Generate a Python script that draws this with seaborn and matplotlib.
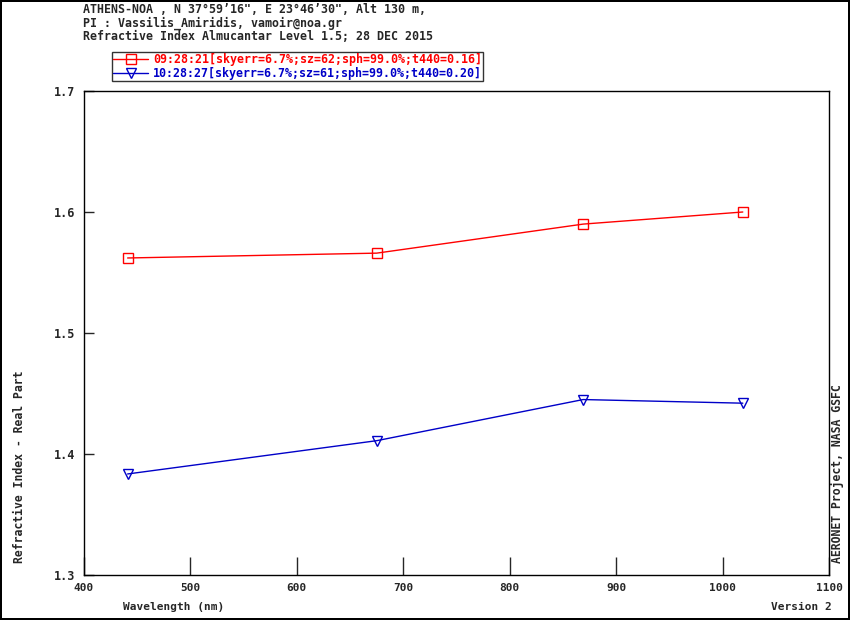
import matplotlib
matplotlib.use("Agg")
import matplotlib.pyplot as plt
import seaborn as sns
import pandas as pd

# Data (AERONET almucantar inversion, real refractive index)
wavelength = [441, 675, 869, 1019]
ri_0928 = [1.562, 1.566, 1.590, 1.600]
ri_1028 = [1.3835, 1.411, 1.445, 1.442]
labels = ["09:28:21[skyerr=6.7%;sz=62;sph=99.0%;t440=0.16]",
          "10:28:27[skyerr=6.7%;sz=61;sph=99.0%;t440=0.20]"]
header = ["ATHENS-NOA , N 37\u00b059\u201916\", E 23\u00b046\u201930\", Alt 130 m,",
          "PI : Vassilis_Amiridis, vamoir@noa.gr",
          "Refractive Index Almucantar Level 1.5; 28 DEC 2015"]
xticks = [400, 500, 600, 700, 800, 900, 1000, 1100]
yticks = [1.3, 1.4, 1.5, 1.6, 1.7]

sns.set_style("white")
plt.rcParams["font.family"] = ["DejaVu Sans Mono", "DejaVu Sans"]
plt.rcParams["font.weight"] = "bold"

RED = "#ff0000"
BLUE = "#0000c8"

fig = plt.figure(figsize=(8.5, 6.2), dpi=100)
fig.patch.set_edgecolor("black")
fig.patch.set_linewidth(1.5)
ax = fig.add_axes([84 / 850, 1 - 575 / 620, 745 / 850, 484 / 620])

df1 = pd.DataFrame({"wl": wavelength, "ri": ri_0928})
df2 = pd.DataFrame({"wl": wavelength, "ri": ri_1028})
sns.lineplot(data=df1, x="wl", y="ri", ax=ax, color=RED, linewidth=1,
             marker="s", markersize=7, markerfacecolor="none",
             markeredgecolor=RED, markeredgewidth=1, label=labels[0])
sns.lineplot(data=df2, x="wl", y="ri", ax=ax, color=BLUE, linewidth=1,
             marker="v", markersize=7, markerfacecolor="none",
             markeredgecolor=BLUE, markeredgewidth=1, label=labels[1])

ax.set_xlim(400, 1100)
ax.set_ylim(1.3, 1.7)
ax.set_xticks(xticks)
ax.set_yticks(yticks)
ax.set_xticklabels([str(t) for t in xticks], fontsize=8, fontweight="bold")
ax.set_yticklabels([f"{t:.1f}" for t in yticks], fontsize=8.5, fontweight="bold")
ax.tick_params(axis="x", direction="in", length=13, width=1, pad=6, bottom=True)
ax.tick_params(axis="y", direction="in", length=7, width=1, pad=6, left=True)
for s in ax.spines.values():
    s.set_linewidth(1)
    s.set_color("black")
ax.set_xlabel("")
ax.set_ylabel("")

leg = ax.legend(loc="upper left", bbox_to_anchor=(112 / 850, 1 - 52 / 620),
                bbox_transform=fig.transFigure, fontsize=8.4, frameon=True,
                fancybox=False, handlelength=3.0, handletextpad=0.4,
                borderpad=0.1, labelspacing=0.05, borderaxespad=0)
leg.get_frame().set_edgecolor("black")
leg.get_frame().set_linewidth(1)
for txt, c in zip(leg.get_texts(), [RED, BLUE]):
    txt.set_color(c)
    txt.set_fontweight("bold")

for i, line in enumerate(header):
    fig.text(83 / 850, 1 - (9.5 + 13.5 * i) / 620, line, fontsize=8.4,
             fontweight="bold", ha="left", va="center")

fig.text(20 / 850, 1 - 563 / 620, "Refractive Index - Real Part", rotation=90,
         fontsize=8.3, fontweight="bold", ha="center", va="bottom")
fig.text(837 / 850, 1 - 563 / 620, "AERONET Project, NASA GSFC", rotation=90,
         fontsize=8.3, fontweight="bold", ha="center", va="bottom")
fig.text(123 / 850, 1 - 607 / 620, "Wavelength (nm)", fontsize=8,
         fontweight="bold", ha="left", va="center")
fig.text(832 / 850, 1 - 607 / 620, "Version 2", fontsize=8,
         fontweight="bold", ha="right", va="center")

fig.savefig("out.png", dpi=100, edgecolor=fig.get_edgecolor())
